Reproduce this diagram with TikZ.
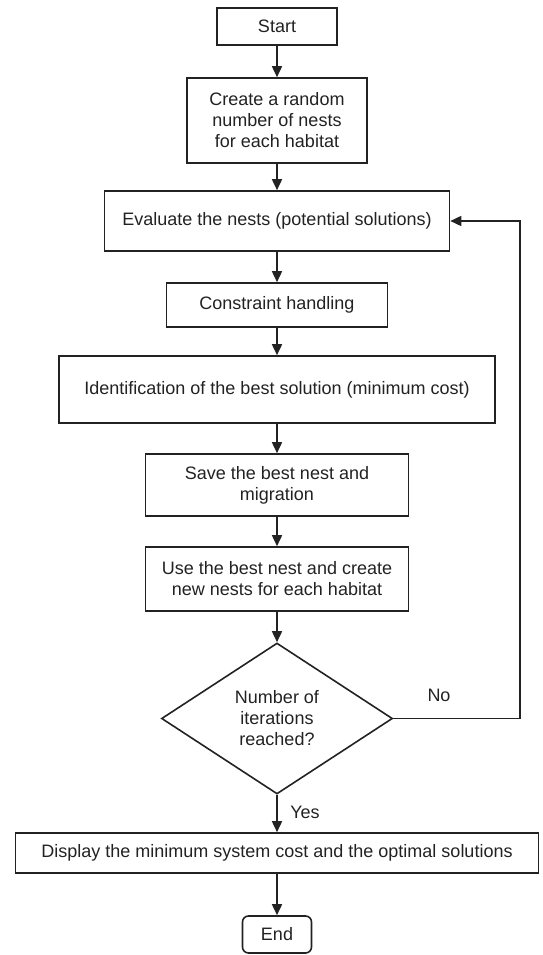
\documentclass[tikz,border=0pt]{standalone}
\usepackage{fontspec}
\setmainfont{Liberation Sans}
\usetikzlibrary{shapes.geometric, arrows.meta}
\definecolor{inkgray}{HTML}{222222}

\begin{document}
\begin{tikzpicture}[x=1pt, y=-1pt,
    every node/.style={font=\fontsize{18}{21}\selectfont, text=inkgray},
    procbox/.style={rectangle, draw=inkgray, line width=1.6pt, inner sep=0pt, align=center},
    termbox/.style={procbox, rounded corners=6pt},
    decision/.style={diamond, draw=inkgray, line width=1.6pt, inner sep=0pt, align=center},
    flow/.style={-{Triangle[length=11pt, width=10pt]}, draw=inkgray, line width=1.6pt}]
    \useasboundingbox (0,0) rectangle (542,955);

    % Start and first steps
    \node[procbox, minimum width=120pt, minimum height=37pt] (start) at (277,26.5) {Start};
    \node[procbox, minimum width=180pt, minimum height=85pt] (create) at (277,120.5) {Create a random\\number of nests\\for each habitat};
    \node[procbox, minimum width=345pt, minimum height=60pt] (evaluate) at (277,221) {Evaluate the nests (potential solutions)};
    \node[procbox, minimum width=221pt, minimum height=44pt] (constraint) at (277,305) {Constraint handling};
    \node[procbox, minimum width=436pt, minimum height=67pt] (identify) at (277,389.5) {Identification of the best solution (minimum cost)};
    \node[procbox, minimum width=263pt, minimum height=62pt] (save) at (277,485) {Save the best nest and\\migration};
    \node[procbox, minimum width=263pt, minimum height=64pt] (usebest) at (277,579) {Use the best nest and create\\new nests for each habitat};

    % Decision
    \node[decision, minimum width=231pt, minimum height=151pt] (check) at (277,718.5) {Number of\\iterations\\reached?};

    % Final steps
    \node[procbox, minimum width=523pt, minimum height=40pt] (display) at (277,853) {Display the minimum system cost and the optimal solutions};
    \node[termbox, minimum width=69pt, minimum height=37pt] (finish) at (277,934.5) {End};

    % Main flow
    \draw[flow] (start) -- (create);
    \draw[flow] (create) -- (evaluate);
    \draw[flow] (evaluate) -- (constraint);
    \draw[flow] (constraint) -- (identify);
    \draw[flow] (identify) -- (save);
    \draw[flow] (save) -- (usebest);
    \draw[flow] (usebest) -- (check);
    \draw[flow] (check) -- (display);
    \draw[flow] (display) -- (finish);

    % Loop back when not reached
    \coordinate (loopcorner) at (520,718.5);
    \draw[flow] (check.east) -- (loopcorner) |- (evaluate.east);

    % Branch labels
    \node (nolabel) at (439,695) {No};
    \node (yeslabel) at (305,812) {Yes};
\end{tikzpicture}
\end{document}
